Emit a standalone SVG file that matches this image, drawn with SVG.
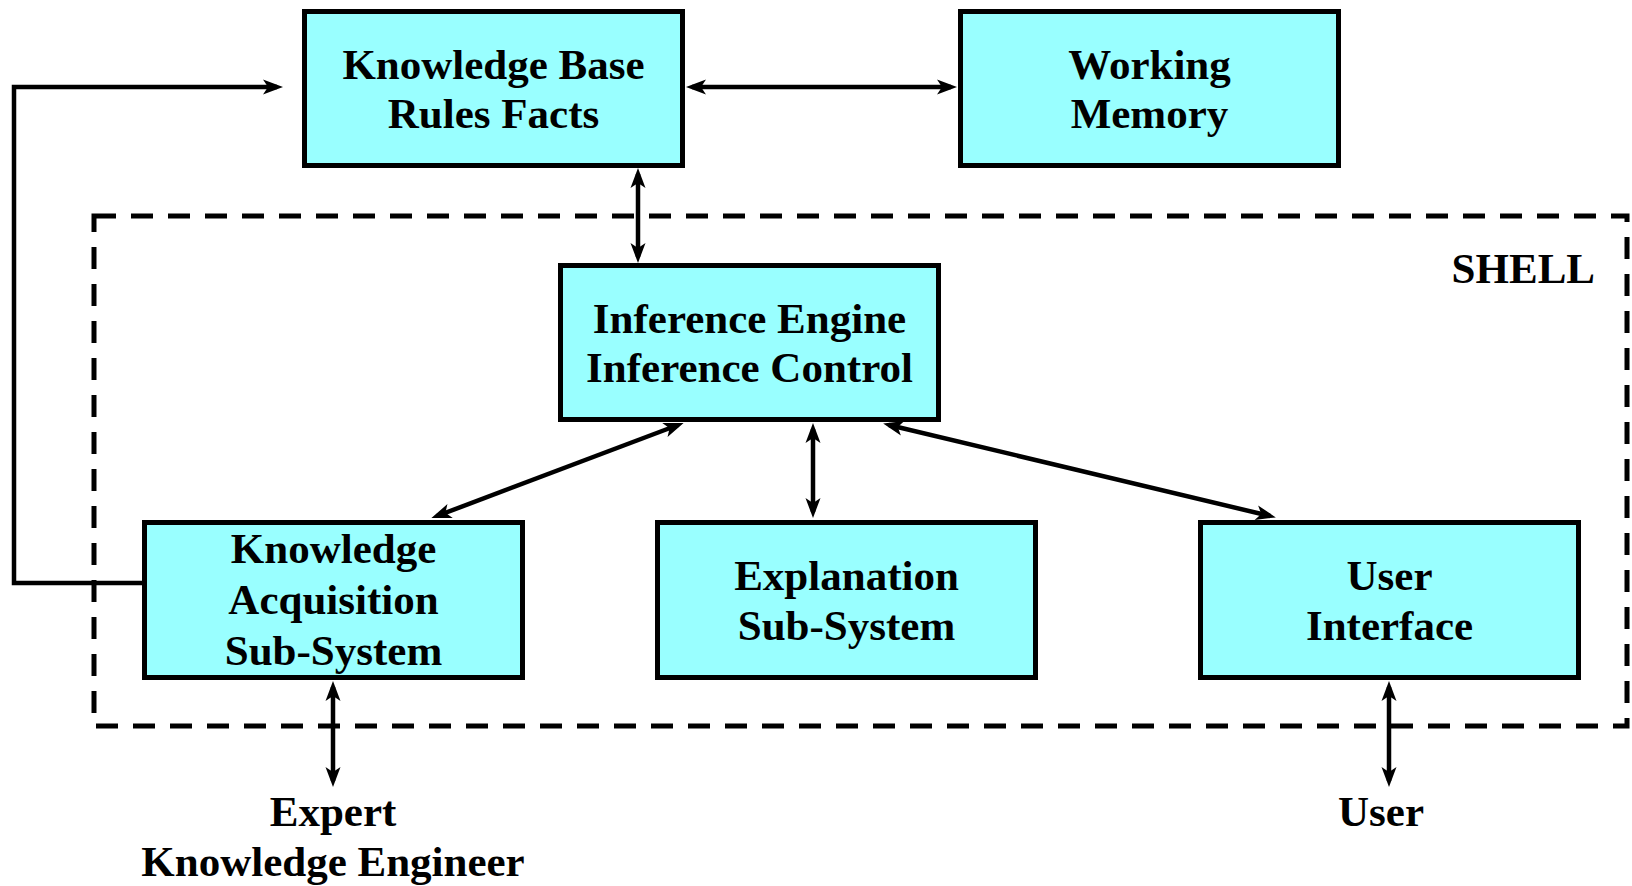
<svg xmlns="http://www.w3.org/2000/svg" width="1632" height="886" viewBox="0 0 1632 886">
  <style>
    .box { fill: #99ffff; stroke: #000; stroke-width: 5; }
    .lbl { font-family: "Liberation Serif", "Times New Roman", serif; font-weight: bold; font-size: 43px; fill: #000; text-anchor: middle; }
    .wire { fill: none; stroke: #000; stroke-width: 4.5; }
    .dual { marker-start: url(#tip); marker-end: url(#tip); }
    .one { marker-end: url(#tip); }
    .shell { fill: none; stroke: #000; stroke-width: 5; stroke-dasharray: 22 15; }
  </style>
  <defs>
    <marker id="tip" markerUnits="userSpaceOnUse" refX="0" refY="0" markerWidth="40" markerHeight="40" orient="auto-start-reverse" overflow="visible">
      <path d="M6,0 L-14,-7.5 L-9,0 L-14,7.5 Z" fill="#000"/>
    </marker>
  </defs>

  <rect width="1632" height="886" fill="#fff"/>

  <!-- shell boundary -->
  <g id="shell">
    <rect class="shell" x="94" y="216" width="1533" height="510"/>
    <text class="lbl" x="1595" y="283" style="text-anchor:end">SHELL</text>
  </g>

  <!-- connectors -->
  <g id="connectors">
    <line class="wire dual" x1="692" y1="87" x2="951" y2="87"/>
    <line class="wire dual" x1="638" y1="174" x2="638" y2="257"/>
    <path class="wire one" d="M142,583 H14 V87 H277"/>
    <line class="wire dual" x1="678" y1="425" x2="437" y2="516"/>
    <line class="wire dual" x1="813" y1="429" x2="813" y2="512"/>
    <line class="wire dual" x1="889" y1="425" x2="1270" y2="516"/>
    <line class="wire dual" x1="333" y1="687" x2="333" y2="781"/>
    <line class="wire dual" x1="1389" y1="687" x2="1389" y2="781"/>
  </g>

  <g id="knowledge-base">
    <rect class="box" x="304.5" y="11.5" width="378" height="154"/>
    <text class="lbl" x="493.5" y="79">Knowledge Base</text>
    <text class="lbl" x="493.5" y="128">Rules Facts</text>
  </g>

  <g id="working-memory">
    <rect class="box" x="960.5" y="11.5" width="378" height="154"/>
    <text class="lbl" x="1149.5" y="79">Working</text>
    <text class="lbl" x="1149.5" y="128">Memory</text>
  </g>

  <g id="inference-engine">
    <rect class="box" x="560.5" y="265.5" width="378" height="154"/>
    <text class="lbl" x="749.5" y="333">Inference Engine</text>
    <text class="lbl" x="749.5" y="382">Inference Control</text>
  </g>

  <g id="knowledge-acquisition">
    <rect class="box" x="144.5" y="522.5" width="378" height="155"/>
    <text class="lbl" x="333.5" y="563">Knowledge</text>
    <text class="lbl" x="333.5" y="614">Acquisition</text>
    <text class="lbl" x="333.5" y="665">Sub-System</text>
  </g>

  <g id="explanation">
    <rect class="box" x="657.5" y="522.5" width="378" height="155"/>
    <text class="lbl" x="846.5" y="590">Explanation</text>
    <text class="lbl" x="846.5" y="640">Sub-System</text>
  </g>

  <g id="user-interface">
    <rect class="box" x="1200.5" y="522.5" width="378" height="155"/>
    <text class="lbl" x="1389.5" y="590">User</text>
    <text class="lbl" x="1389.5" y="640">Interface</text>
  </g>

  <g id="expert">
    <text class="lbl" x="333" y="826">Expert</text>
    <text class="lbl" x="333" y="876">Knowledge Engineer</text>
  </g>

  <g id="user">
    <text class="lbl" x="1381" y="826">User</text>
  </g>
</svg>
